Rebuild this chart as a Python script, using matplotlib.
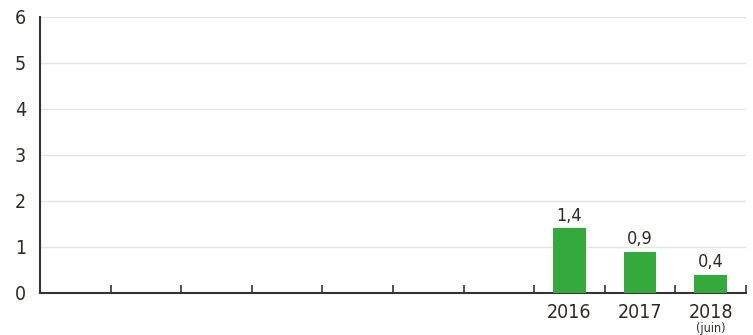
import matplotlib.pyplot as plt
import numpy as np

plt.rcParams["font.family"] = ["DejaVu Sans"]
plt.rcParams["font.stretch"] = "condensed"

years = ["2009", "2010", "2011", "2012", "2013", "2014", "2015", "2016", "2017", "2018"]
tick_labels = ["", "", "", "", "", "", "", "2016", "2017", "2018"]
values = [None, None, None, None, None, None, None, 1.4, 0.9, 0.4]
value_labels = ["1,4", "0,9", "0,4"]

GREEN = "#33aa3b"
TEXT = "#2e2a26"
AXIS = "#333333"

fig = plt.figure(figsize=(7.53, 3.35), dpi=100)
ax = fig.add_axes([0.0531, 0.1254, 0.9376, 0.8253])

x = np.arange(len(years))
shown = [i for i, v in enumerate(values) if v is not None]
bars = ax.bar([x[i] for i in shown], [values[i] for i in shown],
              width=0.46, color=GREEN, zorder=3)

for b, lab in zip(bars, value_labels):
    ax.text(b.get_x() + b.get_width() / 2, b.get_height() + 0.07, lab,
            ha="center", va="bottom", fontsize=13, color=TEXT)

ax.set_xlim(-0.5, len(years) - 0.5)
ax.set_ylim(0, 6)
ax.set_yticks(range(0, 7))
ax.set_yticklabels([str(v) for v in range(0, 7)], fontsize=14, color=TEXT)
ax.tick_params(axis="y", length=0, pad=10)

ax.set_xticks(x)
ax.set_xticklabels(tick_labels, fontsize=14, color=TEXT)
ax.tick_params(axis="x", which="major", length=0, pad=7)
ax.set_xticks(np.arange(0.5, len(years), 1.0), minor=True)
ax.tick_params(axis="x", which="minor", direction="in", length=6, width=1.2, color=AXIS)

ax.text(x[-1], -0.62, "(juin)", ha="center", va="top", fontsize=9, color=TEXT)

ax.grid(axis="y", color="#e4e4e4", linewidth=1, zorder=0)
for side in ["top", "right"]:
    ax.spines[side].set_visible(False)
ax.spines["left"].set_color(AXIS)
ax.spines["left"].set_linewidth(1.5)
ax.spines["bottom"].set_color(AXIS)
ax.spines["bottom"].set_linewidth(1.5)

fig.savefig("out.png", dpi=100)
